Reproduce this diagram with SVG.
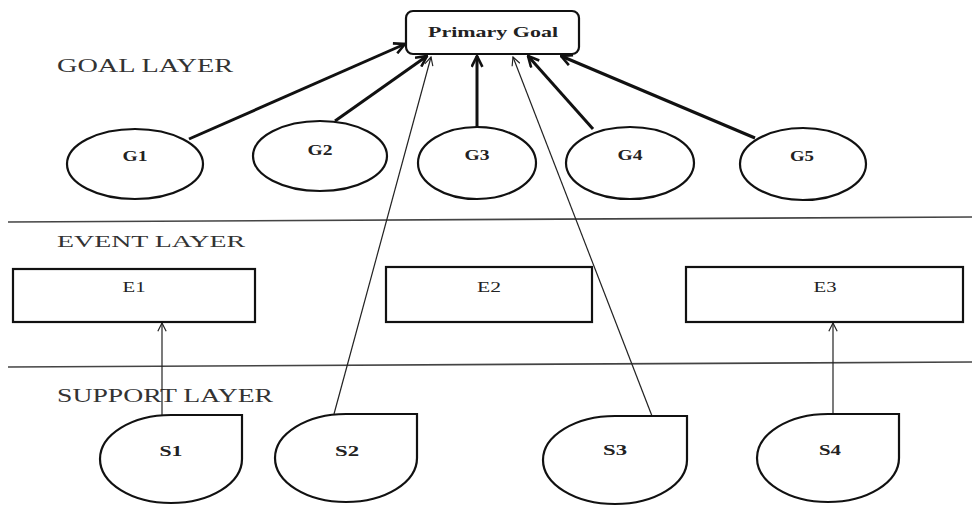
<svg xmlns="http://www.w3.org/2000/svg" width="972" height="509" viewBox="0 0 972 509">
<style>
  .shape { fill: #fff; stroke: #111; stroke-width: 2.2; }
  .layer { font-family: "Liberation Serif", serif; fill: #333; }
  .lbl { font-family: "Liberation Serif", serif; fill: #222; text-anchor: middle; }
  .bold { font-weight: bold; }
  .thick { stroke: #111; stroke-width: 3; fill: none; marker-end: url(#arrowThick); }
  .thin { stroke: #222; stroke-width: 1.2; fill: none; marker-end: url(#arrowThin); }
  .divider { stroke: #444; stroke-width: 1.6; }
</style>
<defs>
  <marker id="arrowThick" viewBox="0 0 12 12" refX="11" refY="6" markerWidth="13" markerHeight="13" markerUnits="userSpaceOnUse" orient="auto">
    <path d="M1,1 L11,6 L1,11" fill="none" stroke="#111" stroke-width="2.4"/>
  </marker>
  <marker id="arrowThin" viewBox="0 0 12 12" refX="11" refY="6" markerWidth="10" markerHeight="10" markerUnits="userSpaceOnUse" orient="auto">
    <path d="M1,1 L11,6 L1,11" fill="none" stroke="#222" stroke-width="1.4"/>
  </marker>
</defs>
<rect width="972" height="509" fill="#fff"/>

<g id="dividers">
  <line class="divider" x1="8" y1="222" x2="972" y2="217"/>
  <line class="divider" x1="8" y1="367" x2="972" y2="362"/>
</g>

<g id="layer-labels">
  <text class="layer" x="57" y="72" font-size="18" textLength="176" lengthAdjust="spacingAndGlyphs">GOAL LAYER</text>
  <text class="layer" x="57" y="247" font-size="17" textLength="188" lengthAdjust="spacingAndGlyphs">EVENT LAYER</text>
  <text class="layer" x="57" y="402" font-size="18" textLength="216" lengthAdjust="spacingAndGlyphs">SUPPORT LAYER</text>
</g>

<g id="connectors">
  <line class="thick" x1="189" y1="139" x2="405" y2="44"/>
  <line class="thick" x1="335" y1="121" x2="427" y2="56"/>
  <line class="thick" x1="477" y1="128" x2="477" y2="56"/>
  <line class="thick" x1="593" y1="129" x2="528" y2="56"/>
  <line class="thick" x1="755" y1="138" x2="561" y2="56"/>
  <line class="thin" x1="334" y1="414" x2="431" y2="57"/>
  <line class="thin" x1="652" y1="416" x2="513" y2="57"/>
  <line class="thin" x1="162" y1="415" x2="162" y2="323"/>
  <line class="thin" x1="833" y1="414" x2="833" y2="323"/>
</g>

<g id="primary-goal">
  <rect class="shape" x="406" y="11" width="173" height="43" rx="7"/>
  <text class="lbl bold" x="493" y="37" font-size="15" textLength="130" lengthAdjust="spacingAndGlyphs">Primary Goal</text>
</g>

<g id="G1">
  <ellipse class="shape" cx="135" cy="164" rx="68" ry="35"/>
  <text class="lbl bold" x="135" y="161" font-size="15" textLength="25" lengthAdjust="spacingAndGlyphs">G1</text>
</g>
<g id="G2">
  <ellipse class="shape" cx="320" cy="156" rx="67" ry="35"/>
  <text class="lbl bold" x="320" y="155" font-size="15" textLength="25" lengthAdjust="spacingAndGlyphs">G2</text>
</g>
<g id="G3">
  <ellipse class="shape" cx="477" cy="163" rx="59" ry="36"/>
  <text class="lbl bold" x="477" y="160" font-size="15" textLength="25" lengthAdjust="spacingAndGlyphs">G3</text>
</g>
<g id="G4">
  <ellipse class="shape" cx="630" cy="163" rx="64" ry="36"/>
  <text class="lbl bold" x="630" y="160" font-size="15" textLength="25" lengthAdjust="spacingAndGlyphs">G4</text>
</g>
<g id="G5">
  <ellipse class="shape" cx="803" cy="164" rx="63" ry="36"/>
  <text class="lbl bold" x="802" y="161" font-size="15" textLength="24" lengthAdjust="spacingAndGlyphs">G5</text>
</g>

<g id="E1">
  <rect class="shape" x="13" y="269" width="242" height="53"/>
  <text class="lbl" x="134" y="292" font-size="15" textLength="23" lengthAdjust="spacingAndGlyphs">E1</text>
</g>
<g id="E2">
  <rect class="shape" x="386" y="267" width="206" height="55"/>
  <text class="lbl" x="489" y="292" font-size="15" textLength="24" lengthAdjust="spacingAndGlyphs">E2</text>
</g>
<g id="E3">
  <rect class="shape" x="686" y="267" width="277" height="55"/>
  <text class="lbl" x="825" y="292" font-size="15" textLength="23" lengthAdjust="spacingAndGlyphs">E3</text>
</g>

<g id="S1">
  <path class="shape" d="M171,415 L242,415 L242,459 A71,44 0 1 1 171,415 Z"/>
  <text class="lbl bold" x="171" y="456" font-size="15" textLength="23" lengthAdjust="spacingAndGlyphs">S1</text>
</g>
<g id="S2">
  <path class="shape" d="M346,414 L417,414 L417,458 A71,44 0 1 1 346,414 Z"/>
  <text class="lbl bold" x="347" y="456" font-size="15" textLength="24" lengthAdjust="spacingAndGlyphs">S2</text>
</g>
<g id="S3">
  <path class="shape" d="M615,416 L687,416 L687,460 A72,44 0 1 1 615,416 Z"/>
  <text class="lbl bold" x="615" y="455" font-size="15" textLength="24" lengthAdjust="spacingAndGlyphs">S3</text>
</g>
<g id="S4">
  <path class="shape" d="M828,414 L899,414 L899,458 A71,44 0 1 1 828,414 Z"/>
  <text class="lbl bold" x="830" y="455" font-size="15" textLength="22" lengthAdjust="spacingAndGlyphs">S4</text>
</g>
</svg>
